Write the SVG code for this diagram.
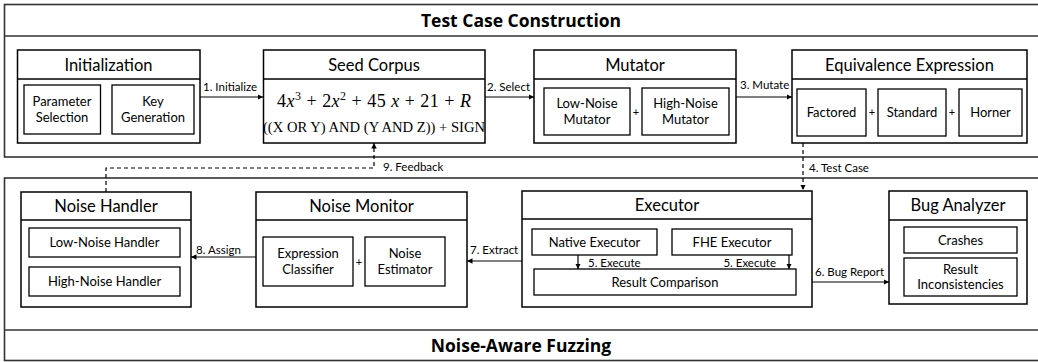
<svg xmlns="http://www.w3.org/2000/svg" width="1038" height="362" viewBox="0 0 1038 362">
<defs>
<marker id="ah" viewBox="0 0 10 10" refX="10" refY="5" markerWidth="5.5" markerHeight="5.5" markerUnits="userSpaceOnUse" orient="auto">
<path d="M0,0 L10,5 L0,10 z" fill="#000"/>
</marker>
<style>
.panel{fill:#fff;stroke:#333;stroke-width:1.6}
.box{fill:#fff;stroke:#000;stroke-width:1.5}
.sub{fill:#fff;stroke:#000;stroke-width:1.3}
.pt{font-family:"Open Sans","Liberation Sans",sans-serif;font-weight:bold;font-size:17.5px;text-anchor:middle;fill:#000}
.h{font-family:Lato,"Liberation Sans",sans-serif;font-size:16.5px;text-anchor:middle;fill:#000}
.t{font-family:Lato,"Liberation Sans",sans-serif;font-size:13px;text-anchor:middle;fill:#000}
.l{font-family:Lato,"Liberation Sans",sans-serif;font-size:11.5px;fill:#000}
.p{font-family:Lato,"Liberation Sans",sans-serif;font-size:11px;text-anchor:middle;fill:#000}
.m{font-family:"Liberation Serif",serif;text-anchor:middle;fill:#000}
.c{stroke:#000;stroke-width:1.2;fill:none}
.d{stroke:#000;stroke-width:1.2;fill:none;stroke-dasharray:4 3}
</style>
</defs>
<g id="panel-top">
<rect class="panel" x="4.5" y="4.5" width="1040" height="152.5"/>
<line class="panel" x1="4.5" y1="36" x2="1045" y2="36"/>
<text class="pt" x="521" y="27">Test Case Construction</text>
</g>
<g id="panel-bottom">
<rect class="panel" x="4.5" y="178" width="1040" height="182.5"/>
<line class="panel" x1="4.5" y1="330" x2="1045" y2="330"/>
<text class="pt" x="521" y="352">Noise-Aware Fuzzing</text>
</g>
<g id="initialization">
<rect class="box" x="17.5" y="50" width="182.5" height="93"/>
<line class="box" x1="17.5" y1="79" x2="200" y2="79"/>
<text class="h" x="108.5" y="70.5">Initialization</text>
<rect class="sub" x="24" y="85" width="76.5" height="49"/>
<text class="t" x="62" y="106">Parameter</text>
<text class="t" x="62" y="122">Selection</text>
<rect class="sub" x="112" y="85" width="82" height="49"/>
<text class="t" x="153" y="106">Key</text>
<text class="t" x="153" y="122">Generation</text>
</g>
<g id="seed-corpus">
<rect class="box" x="263.5" y="50" width="221.5" height="93"/>
<line class="box" x1="263.5" y1="79" x2="485" y2="79"/>
<text class="h" x="374" y="70.5">Seed Corpus</text>
<text class="m" x="374" y="107" font-size="18" textLength="194" lengthAdjust="spacing"><tspan>4</tspan><tspan font-style="italic">x</tspan><tspan font-size="12" dy="-7">3</tspan><tspan dy="7"> + 2</tspan><tspan font-style="italic">x</tspan><tspan font-size="12" dy="-7">2</tspan><tspan dy="7">  + 45 </tspan><tspan font-style="italic">x</tspan><tspan>  + 21 + </tspan><tspan font-style="italic">R</tspan></text>
<text class="m" x="374" y="132" font-size="14.6">((X OR Y) AND (Y AND Z)) +  SIGN</text>
</g>
<g id="mutator">
<rect class="box" x="534" y="50" width="202" height="93"/>
<line class="box" x1="534" y1="79" x2="736" y2="79"/>
<text class="h" x="635" y="70.5">Mutator</text>
<rect class="sub" x="544" y="88" width="86" height="47"/>
<text class="t" x="587" y="108">Low-Noise</text>
<text class="t" x="587" y="124">Mutator</text>
<text class="p" x="636" y="116">+</text>
<rect class="sub" x="642" y="88" width="87" height="47"/>
<text class="t" x="685.5" y="108">High-Noise</text>
<text class="t" x="685.5" y="124">Mutator</text>
</g>
<g id="equivalence-expression">
<rect class="box" x="792" y="50" width="235" height="93"/>
<line class="box" x1="792" y1="79" x2="1027" y2="79"/>
<text class="h" x="909.5" y="70.5">Equivalence Expression</text>
<rect class="sub" x="797" y="89" width="69" height="47"/>
<text class="t" x="831.5" y="117">Factored</text>
<text class="p" x="872" y="116">+</text>
<rect class="sub" x="878" y="89" width="68" height="47"/>
<text class="t" x="912" y="117">Standard</text>
<text class="p" x="952" y="116">+</text>
<rect class="sub" x="959" y="89" width="63" height="47"/>
<text class="t" x="990.5" y="117">Horner</text>
</g>
<g id="noise-handler">
<rect class="box" x="21" y="192" width="170" height="115"/>
<line class="box" x1="21" y1="220" x2="191" y2="220"/>
<text class="h" x="106" y="211.5">Noise Handler</text>
<rect class="sub" x="29" y="228" width="151" height="29"/>
<text class="t" x="104.5" y="247">Low-Noise Handler</text>
<rect class="sub" x="29" y="267" width="151" height="29"/>
<text class="t" x="104.5" y="286">High-Noise Handler</text>
</g>
<g id="noise-monitor">
<rect class="box" x="256" y="192" width="211" height="115"/>
<line class="box" x1="256" y1="220" x2="467" y2="220"/>
<text class="h" x="361.5" y="211.5">Noise Monitor</text>
<rect class="sub" x="263" y="237" width="90" height="49"/>
<text class="t" x="308" y="258">Expression</text>
<text class="t" x="308" y="274">Classifier</text>
<text class="p" x="359" y="266">+</text>
<rect class="sub" x="365" y="237" width="80" height="49"/>
<text class="t" x="405" y="258">Noise</text>
<text class="t" x="405" y="274">Estimator</text>
</g>
<g id="executor">
<rect class="box" x="522" y="191" width="290" height="116"/>
<line class="box" x1="522" y1="219" x2="812" y2="219"/>
<text class="h" x="667" y="210.5">Executor</text>
<rect class="sub" x="532" y="229" width="125" height="26"/>
<text class="t" x="594.5" y="246.5">Native Executor</text>
<rect class="sub" x="672" y="229" width="120" height="26"/>
<text class="t" x="732" y="246.5">FHE Executor</text>
<rect class="sub" x="534" y="269" width="262" height="26"/>
<text class="t" x="665" y="286.5">Result Comparison</text>
</g>
<g id="bug-analyzer">
<rect class="box" x="889" y="191" width="138" height="113"/>
<line class="box" x1="889" y1="220" x2="1027" y2="220"/>
<text class="h" x="958" y="211">Bug Analyzer</text>
<rect class="sub" x="904" y="227" width="113" height="26"/>
<text class="t" x="960.5" y="244.5">Crashes</text>
<rect class="sub" x="904" y="258" width="113" height="38"/>
<text class="t" x="960.5" y="273.5">Result</text>
<text class="t" x="960.5" y="288.5">Inconsistencies</text>
</g>
<g id="connectors">
<line class="c" x1="200" y1="97" x2="263" y2="97" marker-end="url(#ah)"/>
<text class="l" x="203" y="91">1. Initialize</text>
<line class="c" x1="485" y1="97" x2="534" y2="97" marker-end="url(#ah)"/>
<text class="l" x="487" y="91">2. Select</text>
<line class="c" x1="736" y1="97" x2="792" y2="97" marker-end="url(#ah)"/>
<text class="l" x="740" y="89">3. Mutate</text>
<line class="d" x1="803" y1="143" x2="803" y2="190" marker-end="url(#ah)"/>
<text class="l" x="809" y="172">4. Test Case</text>
<line class="c" x1="578" y1="255" x2="578" y2="269" marker-end="url(#ah)"/>
<text class="l" x="588" y="267">5. Execute</text>
<line class="c" x1="789" y1="255" x2="789" y2="269" marker-end="url(#ah)"/>
<text class="l" x="776" y="267" text-anchor="end">5. Execute</text>
<line class="c" x1="812" y1="282" x2="889" y2="282" marker-end="url(#ah)"/>
<text class="l" x="815" y="276">6. Bug Report</text>
<line class="c" x1="522" y1="261" x2="467" y2="261" marker-end="url(#ah)"/>
<text class="l" x="470" y="254">7. Extract</text>
<line class="c" x1="256" y1="257" x2="191" y2="257" marker-end="url(#ah)"/>
<text class="l" x="196" y="254">8. Assign</text>
<path class="d" d="M106,192 V168 H374 V143" marker-end="url(#ah)"/>
<text class="l" x="383" y="171">9. Feedback</text>
</g>
</svg>
